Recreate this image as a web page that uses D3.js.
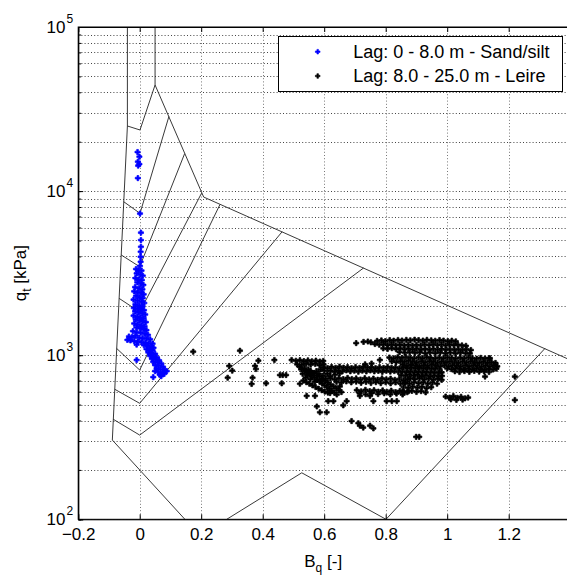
<!DOCTYPE html>
<html><head><meta charset="utf-8">
<script src="https://cdn.jsdelivr.net/npm/d3@7"></script>
<style>body{margin:0;background:#fff;overflow:hidden}svg{display:block;font-family:"Liberation Sans",Arial,Helvetica,sans-serif}</style>
</head><body><div id="chart"></div>
<script>
// ---- axis tick values ----
const xTicks = [-0.2, 0, 0.2, 0.4, 0.6, 0.8, 1, 1.2];
const xGridVals = [0, 0.2, 0.4, 0.6, 0.8, 1, 1.2];
const yMajor = [100, 1000, 10000, 100000];
const yExp = ["2", "3", "4", "5"];
const legendLabels = ["Lag: 0 - 8.0 m - Sand/silt", "Lag: 8.0 - 25.0 m - Leire"];
const seriesColors = ["#0000ff", "#000000"];

// ---- classification chart boundary lines [Bq, qt kPa] ----
const boundLeft = [[-0.040,100000],[-0.040,24930],[-0.089,304]];
const boundZone7Top = [[-0.040,24930],[0.001,23570],[0.050,44330]];
const boundUpper = [[0.050,100000],[0.050,44330],[0.208,9200],[1.40,935]];
const boundV1 = [[-0.052,8617],[0.001,7320],[0.095,28500]];
const boundV2 = [[-0.060,4080],[0.000,3460],[0.146,16900]];
const boundV3 = [[-0.067,2220],[0.000,1834],[0.201,9700]];
const boundV4 = [[-0.075,1100],[0.000,812],[0.261,8285]];
const boundV5 = [[-0.081,620],[0.000,509],[0.463,5650]];
const boundV6 = [[-0.086,407],[0.000,326],[0.728,3400]];
const boundBottom = [[-0.089,304],[0.147,100]];
const boundZone1 = [[0.283,100],[0.527,192],[0.801,100],[1.318,1100]];

// ---- series 1: 0 - 8.0 m, Sand/silt [Bq, qt] ----
const sandPts = [
[-0.007,17300],[-0.001,16200],[-0.006,15100],[-0.001,14600],[-0.005,14300],[-0.006,12000],
[0.001,7300],[0.004,5580],[0.004,5030],[0.004,4580],[0.003,4270],[0.003,3980],[0.003,3710],[0.001,3500],
[-0.012,3350],[-0.004,3300],[0.006,3280],[-0.010,3150],[0.002,3100],[0.010,3050],[-0.014,2950],[-0.003,2900],[0.007,2870],[-0.008,2780],[0.004,2720],[0.012,2680],[-0.015,2600],[-0.002,2560],[0.009,2520],
[-0.018,2450],[-0.006,2420],[0.005,2400],[0.013,2350],[-0.012,2300],[0.000,2260],[0.010,2230],[-0.020,2180],[-0.007,2150],[0.006,2120],[0.015,2080],[-0.014,2040],[-0.002,2010],[0.009,1980],[-0.019,1940],[-0.006,1920],[0.004,1900],[0.014,1880],
[-0.015,1850],[-0.003,1820],[0.008,1800],[0.018,1770],[-0.020,1740],[-0.008,1720],[0.003,1700],[0.013,1680],[-0.013,1650],[-0.001,1630],[0.010,1610],[0.020,1590],[-0.018,1560],[-0.006,1540],[0.006,1520],[0.016,1500],[-0.011,1480],[0.001,1460],[0.012,1440],[0.022,1420],
[-0.022,1400],[-0.009,1380],[0.004,1370],[0.017,1350],[0.027,1330],[-0.035,1300],[-0.025,1290],[-0.014,1310],[-0.002,1280],[0.010,1270],[0.022,1260],[0.034,1250],[-0.040,1240],[-0.030,1230],[-0.018,1220],[-0.006,1210],[0.006,1200],[0.018,1190],[0.030,1180],[0.042,1175],[-0.010,1160],[0.014,1150],[0.026,1140],[0.038,1130],[0.045,1110],
[0.022,1090],[0.032,1080],[0.042,1070],[0.028,1040],[0.038,1030],[0.050,1020],[0.034,990],[0.045,980],[0.056,970],[0.040,950],[0.052,940],[0.063,930],[-0.010,935],[0.044,910],[0.058,900],[0.070,890],[0.050,870],[0.062,860],[0.076,850],[0.055,830],[0.068,820],[0.082,810],[0.050,800],[0.060,790],[0.075,780],[0.088,800],[0.065,760],[0.080,770],[0.070,745],[0.044,735]
];

// ---- series 2: 8.0 - 25.0 m, Leire [Bq, qt] ----
const clayPts = [
[0.174,1050],[0.326,1065],[0.291,860],[0.301,805],[0.286,729],[0.386,926],[0.375,860],[0.378,824],[0.367,729],[0.364,668],[0.411,674],[0.438,935],[0.462,674],[0.465,757],[0.476,757],[0.456,757],
[0.704,1185],[0.728,1205],[0.742,1212],[0.752,1198],
[0.772,1222],[0.786,1230],[0.799,1218],[0.813,1235],[0.826,1226],[0.840,1238],[0.853,1229],[0.867,1240],[0.880,1232],[0.894,1243],[0.907,1236],[0.921,1228],[0.934,1240],[0.948,1232],[0.961,1225],[0.975,1236],[0.988,1228],[1.002,1219],[1.015,1226],[1.028,1214],
[0.765,1170],[0.779,1158],[0.792,1166],[0.806,1152],[0.819,1163],[0.833,1150],[0.846,1161],[0.860,1148],[0.873,1158],[0.887,1146],[0.900,1157],[0.914,1149],[0.927,1162],[0.941,1151],[0.954,1165],[0.968,1153],[0.981,1162],[0.995,1149],[1.008,1160],[1.022,1150],[1.035,1158],[1.048,1147],[1.061,1140],
[0.792,1100],[0.806,1092],[0.820,1104],[0.834,1088],[0.847,1099],[0.861,1086],[0.874,1097],[0.888,1084],[0.901,1095],[0.915,1083],[0.928,1094],[0.942,1082],[0.955,1093],[0.969,1081],[0.982,1092],[0.996,1080],[1.009,1091],[1.023,1079],[1.036,1090],[1.050,1078],[1.063,1087],[1.077,1075],
[0.845,1045],[0.862,1035],[0.878,1042],[0.895,1032],[0.911,1040],[0.928,1030],[0.944,1038],[0.961,1028],[0.977,1036],[0.994,1026],[1.010,1035],[1.027,1025],[1.043,1033],[1.060,1028],
[0.812,968],[0.826,958],[0.839,972],[0.853,962],[0.866,975],[0.880,965],[0.893,958],[0.907,970],[0.920,961],[0.934,973],[0.947,963],[0.961,955],[0.974,968],[0.988,959],[1.001,971],[1.015,962],[1.028,954],[1.042,966],[1.055,957],[1.069,969],[1.082,960],[1.096,952],[1.109,963],[1.123,955],[1.136,958],
[0.820,918],[0.834,908],[0.847,921],[0.861,911],[0.874,924],[0.888,914],[0.901,905],[0.915,917],[0.928,908],[0.942,920],[0.955,910],[0.969,902],[0.982,915],[0.996,906],[1.009,918],[1.023,909],[1.036,900],[1.050,913],[1.063,904],[1.077,916],[1.090,907],[1.104,899],[1.117,911],[1.131,902],[1.144,908],[1.157,897],
[0.855,872],[0.869,863],[0.882,876],[0.896,866],[0.909,858],[0.923,870],[0.936,861],[0.950,873],[0.963,864],[0.977,856],[0.990,868],[1.004,859],[1.017,871],[1.031,862],[1.044,854],[1.058,866],[1.071,857],[1.085,869],[1.098,860],[1.112,852],[1.125,864],[1.139,856],[1.152,866],[1.163,855],
[1.000,830],[1.014,822],[1.027,834],[1.041,825],[1.054,817],[1.068,829],[1.081,820],[1.095,832],[1.108,823],[1.122,815],[1.135,826],[1.149,818],[1.160,828],
[1.025,798],[1.040,790],[1.056,800],[1.072,792],[1.088,802],[1.104,794],[1.120,798],[1.136,790],
[0.598,842],[0.611,835],[0.624,848],[0.637,838],[0.650,851],[0.663,840],[0.676,846],[0.689,834],[0.702,847],[0.715,837],[0.728,850],[0.741,839],[0.754,845],[0.767,833],[0.780,846],[0.793,836],[0.806,849],[0.819,838],[0.832,844],[0.845,832],[0.858,843],[0.871,833],[0.884,840],[0.897,830],[0.910,838],[0.923,828],[0.936,836],[0.949,826],[0.962,833],[0.975,824],
[0.620,802],[0.633,795],[0.646,806],[0.659,797],[0.672,808],[0.685,798],[0.698,804],[0.711,793],[0.724,805],[0.737,796],[0.750,807],[0.763,797],[0.776,803],[0.789,792],[0.802,804],[0.815,795],[0.828,801],[0.841,790],[0.854,798],[0.867,788],[0.880,796],[0.893,786],[0.906,794],[0.919,784],[0.932,792],[0.945,782],[0.958,789],[0.971,780],[0.982,786],
[0.850,755],[0.864,748],[0.877,760],[0.891,750],[0.904,758],[0.918,746],[0.931,755],[0.945,744],[0.958,752],[0.972,742],[0.983,748],
[0.494,935],[0.508,925],[0.521,932],[0.534,920],[0.547,930],[0.560,918],[0.573,927],[0.586,915],[0.597,922],[0.512,880],[0.527,872],[0.541,886],[0.556,875],[0.571,884],[0.585,870],[0.598,878],
[0.733,880],[0.754,890],[0.781,935],[0.520,850],[0.535,835],[0.548,820],
[0.525,820],[0.538,805],[0.551,790],[0.530,770],[0.545,755],[0.560,780],[0.575,800],[0.588,820],[0.600,805],[0.583,770],[0.596,750],[0.610,770],[0.540,730],[0.555,715],[0.570,690],[0.590,700],[0.605,720],[0.620,745],[0.635,760],[0.650,775],
[0.620,722],[0.634,712],[0.648,725],[0.662,715],[0.676,727],[0.690,716],[0.704,722],[0.718,711],[0.732,724],[0.746,713],[0.760,720],[0.774,709],[0.788,722],[0.802,712],[0.816,719],[0.830,708],[0.844,716],[0.858,706],[0.872,714],
[0.640,688],[0.656,680],[0.672,692],[0.688,683],[0.704,690],[0.720,679],[0.736,687],[0.752,677],[0.768,685],[0.784,676],[0.800,684],[0.816,674],[0.832,682],[0.848,672],[0.864,680],
[0.880,722],[0.895,715],[0.910,725],[0.925,712],[0.940,720],[0.955,710],[0.970,718],[0.982,708],
[0.862,680],[0.877,672],[0.892,684],[0.907,675],[0.922,683],[0.937,672],[0.952,680],[0.967,670],
[0.858,640],[0.873,632],[0.888,644],[0.903,635],[0.918,642],[0.933,630],[0.948,638],
[0.855,602],[0.870,595],[0.885,606],[0.900,597],[0.915,604],[0.930,594],
[0.706,612],[0.720,602],[0.734,615],[0.748,604],[0.762,612],[0.776,600],[0.790,610],[0.804,598],[0.818,608],[0.832,596],[0.846,606],[0.860,594],[0.874,603],
[0.715,585],[0.735,578],[0.755,588],[0.775,580],[0.795,586],[0.815,577],[0.835,584],[0.855,576],
[0.543,790],[0.552,768],[0.560,748],[0.568,728],[0.577,708],[0.585,690],[0.593,672],[0.601,656],[0.609,640],[0.617,624],[0.625,607],[0.633,591],[0.641,576],
[0.556,800],[0.566,778],[0.575,757],[0.584,737],[0.594,716],[0.603,697],[0.612,680],[0.621,662],[0.630,645],[0.639,628],[0.648,611],[0.656,596],
[0.532,700],[0.542,685],[0.552,670],[0.562,655],[0.572,640],[0.582,625],[0.592,612],[0.602,600],[0.612,592],[0.619,588],
[0.995,560],[1.008,552],[1.020,563],[1.033,550],[1.045,558],[1.058,546],[1.068,552],[1.012,538],[1.030,534],[1.050,536],
[0.613,525],[0.630,525],[0.662,495],[0.673,525],[0.576,487],[0.586,449],[0.608,449],[0.521,670],[0.543,565],[0.570,565],[0.716,565],[0.749,565],[0.760,525],[0.803,525],[0.820,525],[0.836,525],[0.689,397],[0.711,385],[0.716,372],[0.727,362],[0.749,372],[0.760,358],[0.899,318],[0.909,318],[0.651,645],[1.123,741],[1.220,741],[1.220,533],[1.139,958],[1.074,1025]
];

// ---- layout ----
const W = 567, H = 579;
const L = 78.2, R = 570.2, T = 27, B = 519.3;
const x = d3.scaleLinear().domain([-0.2, 1.4]).range([L, R]);
const y = d3.scaleLog().domain([100, 100000]).range([B, T]);

const svg = d3.select("#chart").append("svg").attr("width", W).attr("height", H);
svg.append("rect").attr("width", W).attr("height", H).attr("fill", "#fff");
svg.append("defs").append("clipPath").attr("id", "clip")
  .append("rect").attr("x", L).attr("y", T).attr("width", R - L).attr("height", B - T);

// grid
const grid = svg.append("g").attr("clip-path", "url(#clip)")
  .attr("stroke", "#444").attr("stroke-width", 1).attr("stroke-dasharray", "1,2.2").attr("fill", "none");
grid.selectAll("line.v").data(xGridVals).join("line")
  .attr("x1", d => Math.round(x(d)) + 0.5).attr("x2", d => Math.round(x(d)) + 0.5)
  .attr("y1", T).attr("y2", B).attr("stroke", "#777");
grid.selectAll("line.h").data(y.ticks()).join("line")
  .attr("x1", L).attr("x2", R)
  .attr("y1", d => Math.round(y(d)) + 0.5).attr("y2", d => Math.round(y(d)) + 0.5);

// boundary lines
const line = d3.line().x(d => x(d[0])).y(d => y(d[1]));
const bounds = [boundLeft, boundZone7Top, boundUpper, boundV1, boundV2, boundV3, boundV4, boundV5, boundV6, boundBottom, boundZone1];
svg.append("g").attr("clip-path", "url(#clip)").selectAll("path").data(bounds).join("path")
  .attr("d", line).attr("fill", "none").attr("stroke", "#222").attr("stroke-width", 0.9);

// points
const sym = d3.symbol().type(d3.symbolCross).size(15);
const pts = svg.append("g").attr("clip-path", "url(#clip)");
pts.selectAll("path.c").data(clayPts).join("path")
  .attr("d", sym).attr("transform", d => `translate(${x(d[0])},${y(d[1])})`)
  .attr("fill", seriesColors[1]).attr("stroke", seriesColors[1]).attr("stroke-width", 0.7);
pts.selectAll("path.s").data(sandPts).join("path")
  .attr("d", sym).attr("transform", d => `translate(${x(d[0])},${y(d[1])})`)
  .attr("fill", seriesColors[0]).attr("stroke", seriesColors[0]).attr("stroke-width", 0.7);

// axes
const fs = 17;
const gx = svg.append("g").attr("transform", `translate(0,${B})`)
  .call(d3.axisBottom(x).tickValues(xTicks).tickSize(-5).tickPadding(9).tickFormat(d3.format("")));
const gxt = svg.append("g").attr("transform", `translate(0,${T})`)
  .call(d3.axisTop(x).tickValues(xTicks).tickSize(-5).tickFormat(""));
const gy = svg.append("g").attr("transform", `translate(${L},0)`)
  .call(d3.axisLeft(y).tickValues(y.ticks()).tickSize(-3).tickFormat(""));
const gy2 = svg.append("g").attr("transform", `translate(${L},0)`)
  .call(d3.axisLeft(y).tickValues(yMajor).tickSize(-5).tickFormat(""));
const gyr = svg.append("g").attr("transform", `translate(${R},0)`)
  .call(d3.axisRight(y).tickValues(y.ticks()).tickSize(-3).tickFormat(""));
[gx, gxt, gy, gy2, gyr].forEach(g => {
  g.select(".domain").attr("stroke", "#000");
  g.selectAll(".tick line").attr("stroke", "#000");
  g.selectAll("text").attr("font-size", fs).attr("fill", "#000")
    .attr("font-family", '"Liberation Sans",Arial,sans-serif');
});
gx.selectAll(".tick text").text((d, i) => d3.format("")(xTicks[i]));

// y tick labels 10^n
const ylab = svg.append("g").attr("fill", "#000");
yMajor.forEach((v, i) => {
  ylab.append("text").attr("x", 65.5).attr("y", y(v) + 6).attr("text-anchor", "end")
    .attr("font-size", fs).text("10");
  ylab.append("text").attr("x", 66.5).attr("y", y(v) - 4).attr("text-anchor", "start")
    .attr("font-size", 12).text(yExp[i]);
});

// frame
svg.append("rect").attr("x", L).attr("y", T).attr("width", R - L).attr("height", B - T)
  .attr("fill", "none").attr("stroke", "#000").attr("stroke-width", 1);

// axis labels
const xl = svg.append("text").attr("x", (L + R) / 2 - 1).attr("y", 567).attr("text-anchor", "middle").attr("font-size", fs);
xl.append("tspan").text("B");
xl.append("tspan").attr("dy", 5).attr("font-size", 12).text("q");
xl.append("tspan").attr("dy", -5).text(" [-]");
const yl = svg.append("text").attr("transform", `translate(26,${(T + B) / 2}) rotate(-90)`).attr("text-anchor", "middle").attr("font-size", fs);
yl.append("tspan").text("q");
yl.append("tspan").attr("dy", 5).attr("font-size", 12).text("t");
yl.append("tspan").attr("dy", -5).text(" [kPa]");

// legend
const lg = svg.append("g");
lg.append("rect").attr("x", 278.5).attr("y", 36.5).attr("width", 284).attr("height", 55)
  .attr("fill", "#fff").attr("stroke", "#000").attr("stroke-width", 1);
legendLabels.forEach((t, i) => {
  const cy = 51.7 + i * 24.3;
  lg.append("path").attr("d", d3.symbol().type(d3.symbolCross).size(12)).attr("transform", `translate(317.7,${cy})`)
    .attr("fill", seriesColors[i]).attr("stroke", seriesColors[i]).attr("stroke-width", 0.6);
  lg.append("text").attr("x", 353.3).attr("y", cy + 6).attr("font-size", 18).text(t);
});
</script></body></html>
